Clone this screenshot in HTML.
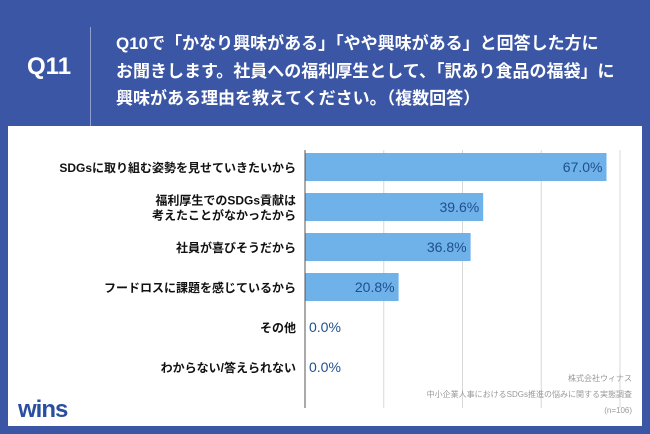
<!DOCTYPE html>
<html><head><meta charset="utf-8"><style>
body{margin:0;width:650px;height:434px;background:#3b56a5;font-family:"Liberation Sans","Noto Sans CJK JP",sans-serif;position:relative;overflow:hidden}
.q{position:absolute;left:27px;top:53px;color:#fff;font-size:24px;font-weight:bold}
.vl{position:absolute;left:90px;top:27px;width:1px;height:105px;background:#8fa0d0}
.t{position:absolute;left:116px;top:30px;color:#fff;font-size:17px;font-weight:bold;line-height:27.5px;white-space:nowrap}
.panel{position:absolute;left:8px;top:126px;width:634px;height:300px;background:#fff}
</style></head><body>
<div class="q">Q11</div>
<div class="vl"></div>
<div class="t">Q10で「かなり興味がある」「やや興味がある」と回答した方に<br>お聞きします。社員への福利厚生として、「訳あり食品の福袋」に<br>興味がある理由を教えてください。（複数回答）</div>
<div class="panel"></div>
<svg id="c" width="650" height="434" style="position:absolute;left:0;top:0"></svg>
<script>
const categories=[["SDGsに取り組む姿勢を見せていきたいから"],["福利厚生でのSDGs貢献は","考えたことがなかったから"],["社員が喜びそうだから"],["フードロスに課題を感じているから"],["その他"],["わからない/答えられない"]];
const values=[67.0,39.6,36.8,20.8,0.0,0.0];
const gridValues=[17.5,35,52.5,70];
const svg=document.getElementById('c');const NS='http://www.w3.org/2000/svg';
const x0=305,pxPer=4.5,y0=153,rowH=40,barH=28;
const xs=v=>x0+v*pxPer;
function mk(t,a,txt){const e=document.createElementNS(NS,t);for(const k in a)e.setAttribute(k,a[k]);if(txt!==undefined)e.textContent=txt;svg.appendChild(e);return e;}
gridValues.forEach(g=>{const l=mk('line',{x1:xs(g),x2:xs(g),y1:150,y2:408,stroke:'#d8d8d8','stroke-width':1});

});
values.forEach((v,i)=>{const cy=y0+i*rowH+barH/2;
if(v>0){const r=mk('rect',{x:x0,y:cy-barH/2,width:v*pxPer,height:barH,fill:'#6fb1e9'});

}
const lab=v.toFixed(1)+'%';
const t=mk('text',{x:v>0?xs(v)-4:x0+4,y:cy+5,'text-anchor':v>0?'end':'start','font-size':14,fill:'#1e4f8f'},lab);


const c=categories[i];
c.forEach((s,j)=>{const ct=mk('text',{x:296,y:cy+5+(j-(c.length-1)/2)*15,'text-anchor':'end','font-size':12,'font-weight':'bold',fill:'#111'},s);

});});
const ax=mk('line',{x1:x0,x2:x0,y1:150,y2:408,stroke:'#555','stroke-width':1});


[["株式会社ウィナス",381],["中小企業人事におけるSDGs推進の悩みに関する実態調査",397],["(n=106)",413]].forEach(([s,y])=>{const e=mk('text',{x:632,y:y,'text-anchor':'end','font-size':8,fill:'#999'},s);

});
const lg=mk('text',{x:18,y:417,'font-size':24,'font-weight':'bold',fill:'#2a4fa0','letter-spacing':'-1'},'wins');


</script>
</body></html>
